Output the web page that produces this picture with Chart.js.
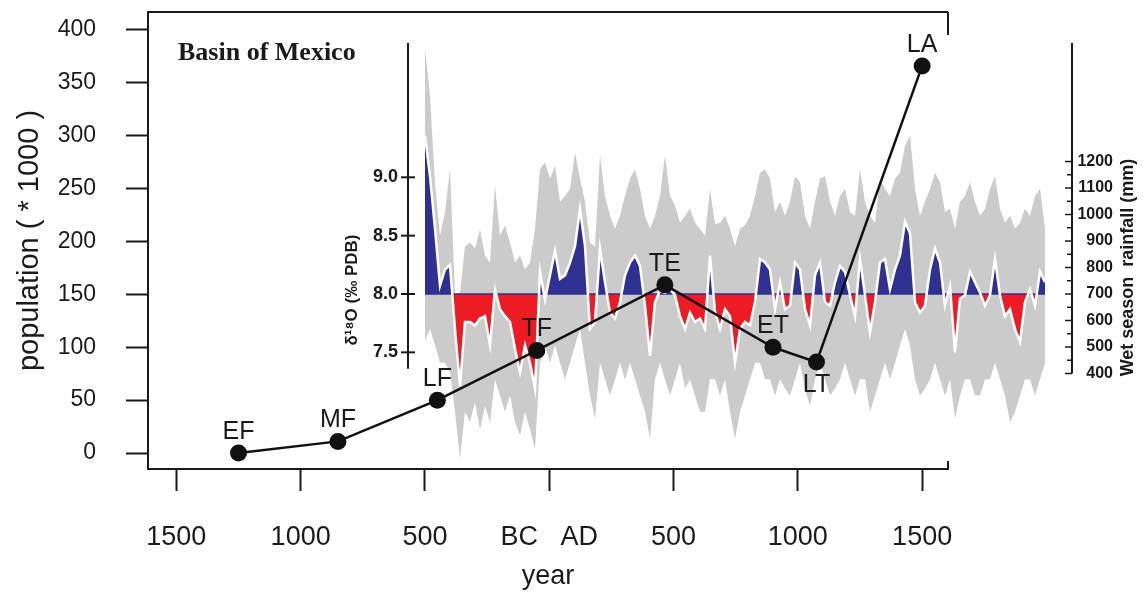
<!DOCTYPE html>
<html>
<head>
<meta charset="utf-8">
<title>Basin of Mexico: population and rainfall</title>
<script src="https://cdn.jsdelivr.net/npm/chart.js@4.4.1/dist/chart.umd.min.js"></script>
<style>
  body { margin: 0; background: #fff; }
  #wrap { position: relative; width: 1143px; height: 596px; }
  #wrap canvas { position: absolute; left: 0; top: 0; }
  #insetChart { z-index: 1; }
  #popChart { z-index: 2; }
  #basinTitle {
    position: absolute; left: 178px; top: 39px; z-index: 3;
    font: bold 26px "Liberation Serif", "Times New Roman", serif;
    line-height: 26px; color: #1a1a1a; white-space: nowrap;
  }
</style>
</head>
<body>
<div id="wrap">
  <canvas id="insetChart" width="1143" height="596"></canvas>
  <canvas id="popChart" width="1143" height="596"></canvas>
  <div id="basinTitle">Basin of Mexico</div>
</div>
<script>
// population phases, years below zero are BC
const PHASES = ["EF", "MF", "LF", "TF", "TE", "ET", "LT", "LA"];
const PHASE_YEARS = [-1250, -850, -450, -50, 465, 900, 1075, 1500];
const POPULATION = [0, 11, 50, 97, 159, 100, 86, 366];
const LABEL_BELOW = ["LT"];

const YEAR_TICKS = [-1500, -1000, -500, 0, 500, 1000, 1500];
const YEAR_LABELS = ["1500", "1000", "500", "BC   AD", "500", "1000", "1500"];
const POP_TICKS = [0, 50, 100, 150, 200, 250, 300, 350, 400];

// speleothem d18O record (inset), one value per sample step
const D18O_SMOOTH = [
  9.36, 9.01, 8.56, 8.07, 8.21, 8.25, 7.70, 7.21, 7.76, 7.76,
  7.73, 7.79, 7.81, 7.56, 8.04, 7.87, 7.81, 7.76, 7.53, 7.33,
  7.56, 7.41, 7.19, 8.19, 7.95, 8.16, 8.37, 8.13, 8.16, 8.27,
  8.41, 8.73, 8.41, 7.70, 7.76, 8.39, 8.10, 7.84, 7.79, 7.93,
  8.16, 8.27, 8.33, 8.24, 7.90, 7.47, 7.93, 8.03, 8.01, 8.04,
  7.99, 7.81, 7.70, 7.84, 7.76, 7.79, 7.70, 8.33, 7.85, 7.70,
  7.87, 7.81, 7.41, 7.70, 7.76, 7.73, 7.93, 8.30, 8.27, 8.21,
  7.87, 8.10, 7.87, 7.90, 8.27, 8.21, 7.87, 7.73, 8.16, 8.27,
  7.93, 7.90, 8.10, 8.24, 8.19, 7.99, 7.81, 8.30, 7.99, 7.67,
  7.93, 8.27, 8.30, 8.04, 8.21, 8.33, 8.62, 8.52, 7.93, 7.84,
  7.90, 8.21, 8.39, 8.27, 7.90, 8.07, 7.50, 7.96, 7.99, 8.19,
  8.10, 8.01, 7.90, 7.99, 8.30, 7.99, 7.81, 7.87, 7.70, 7.59,
  7.93, 8.04, 7.90, 8.19, 8.10
];
const D18O_HIGH = [
  10.10, 9.70, 8.95, 8.50, 8.70, 9.07, 8.00, 8.01, 8.41, 8.44,
  8.39, 8.55, 8.33, 8.27, 8.93, 8.50, 8.59, 8.44, 8.27, 8.33,
  8.21, 8.27, 8.56, 9.07, 9.13, 8.99, 9.10, 8.79, 8.84, 8.90,
  9.21, 8.99, 8.79, 8.44, 8.41, 9.19, 8.84, 8.67, 8.56, 8.67,
  8.84, 8.99, 9.07, 8.90, 8.67, 8.56, 8.67, 8.84, 9.19, 8.84,
  8.76, 8.61, 8.67, 8.73, 8.61, 8.56, 8.50, 8.90, 8.60, 8.61,
  8.67, 8.56, 8.41, 8.56, 8.59, 8.67, 8.84, 9.04, 9.07, 8.99,
  8.70, 8.79, 8.67, 8.79, 9.01, 8.96, 8.67, 8.56, 8.79, 8.99,
  9.01, 8.79, 8.67, 8.84, 8.90, 8.70, 8.67, 9.07, 8.79, 8.67,
  8.61, 8.99, 8.90, 8.84, 8.99, 9.04, 9.27, 9.36, 8.90, 8.67,
  8.79, 8.90, 9.04, 8.96, 8.70, 8.73, 8.56, 8.79, 8.84, 8.96,
  8.79, 8.67, 8.73, 8.90, 9.01, 8.73, 8.61, 8.67, 8.56, 8.61,
  8.73, 8.67, 8.84, 8.90, 8.56
];
const D18O_LOW = [
  7.60, 7.70, 7.56, 7.41, 7.41, 7.33, 6.99, 6.59, 6.99, 6.90,
  7.07, 6.84, 7.04, 6.90, 7.27, 7.13, 6.99, 7.13, 6.90, 6.79,
  6.99, 6.84, 6.67, 7.41, 7.56, 7.41, 7.56, 7.41, 7.27, 7.41,
  7.56, 7.70, 7.41, 7.13, 6.93, 7.41, 7.27, 7.13, 7.27, 7.41,
  7.27, 7.41, 7.27, 7.13, 6.99, 6.76, 7.27, 7.41, 7.27, 7.13,
  7.27, 7.41, 7.19, 7.27, 7.13, 6.99, 6.99, 7.27, 7.27, 7.13,
  7.27, 6.99, 6.76, 6.99, 7.13, 7.27, 7.41, 7.41, 7.27, 7.27,
  7.13, 7.27, 7.19, 7.13, 7.27, 7.41, 7.19, 7.04, 7.27, 7.41,
  7.27, 7.13, 7.19, 7.27, 7.41, 7.27, 7.13, 7.27, 7.27, 6.99,
  7.13, 7.27, 7.41, 7.27, 7.41, 7.56, 7.70, 7.56, 7.27, 7.13,
  7.19, 7.27, 7.41, 7.27, 7.13, 7.27, 6.93, 7.13, 7.27, 7.27,
  7.13, 7.13, 7.27, 7.27, 7.41, 7.27, 7.13, 6.90, 6.99, 7.13,
  7.27, 7.27, 7.13, 7.27, 7.41
];
const D18O_TICKS = [7.5, 8.0, 8.5, 9.0];
const RAIN_TICKS = [400, 500, 600, 700, 800, 900, 1000, 1100, 1200];
const RAIN_MINOR = [450, 550, 650, 750, 850, 950, 1050, 1150];

// inset calibration: 8.0 permil sits at 700 mm
const D18O_BASE = 8.0;
const D18O_MIN = 6.526;
const D18O_MAX = 10.151;
const D18O_AXIS_END = 7.36;
const RAIN_AT_BASE = 700;
const RAIN_PER_PERMIL = 440.4;

const INK = "#1a1a1a";
const BLUE = "#2e3192";
const RED = "#ed1c24";
const GREY = "#cbcbcb";
const SANS = '"Liberation Sans", Arial, sans-serif';

Chart.defaults.font.family = SANS;
Chart.defaults.color = INK;

const asPoints = (arr) => arr.map((v, i) => ({ x: i, y: v }));

function stroke(ctx, x1, y1, x2, y2) {
  ctx.beginPath();
  ctx.moveTo(x1, y1);
  ctx.lineTo(x2, y2);
  ctx.stroke();
}

const insetAxes = {
  id: "insetAxes",
  beforeDatasetDraw(chart, args) {
    if (args.index !== 0) return;
    const { ctx } = chart;
    const x = chart.scales.x;
    const y = chart.scales.y;
    const py = y.getPixelForValue(D18O_BASE);
    ctx.save();
    ctx.strokeStyle = BLUE;
    ctx.lineWidth = 1.5;
    stroke(ctx, x.getPixelForValue(0), py, x.getPixelForValue(D18O_SMOOTH.length - 1), py);
    ctx.restore();
  },
  afterDraw(chart) {
    const { ctx, chartArea } = chart;
    const y = chart.scales.y;
    const rain = chart.scales.rain;
    const left = chartArea.left;
    const right = chartArea.right;
    ctx.save();
    ctx.strokeStyle = INK;
    ctx.lineWidth = 2;
    stroke(ctx, left, chartArea.top, left, y.getPixelForValue(D18O_AXIS_END));
    D18O_TICKS.forEach((v) => {
      const py = y.getPixelForValue(v);
      stroke(ctx, left - 7, py, left + 7, py);
    });
    stroke(ctx, right, chartArea.top, right, rain.getPixelForValue(RAIN_TICKS[0]));
    ctx.lineWidth = 1.5;
    RAIN_TICKS.forEach((v) => {
      const py = rain.getPixelForValue(v);
      stroke(ctx, right - 7, py, right, py);
    });
    RAIN_MINOR.forEach((v) => {
      const py = rain.getPixelForValue(v);
      stroke(ctx, right - 5, py, right, py);
    });

    ctx.fillStyle = INK;
    ctx.textAlign = "center";
    ctx.textBaseline = "middle";
    ctx.save();
    ctx.translate(left - 56, y.getPixelForValue(D18O_BASE) - 4);
    ctx.rotate(-Math.PI / 2);
    ctx.font = "bold 17px " + SANS;
    ctx.fillText("\u03b4\u00b9\u2078O (\u2030 PDB)", 0, 0);
    ctx.restore();
    const midRain = (rain.getPixelForValue(RAIN_TICKS[0]) +
      rain.getPixelForValue(RAIN_TICKS[RAIN_TICKS.length - 1])) / 2;
    ctx.translate(right + 56, midRain);
    ctx.rotate(-Math.PI / 2);
    ctx.font = "bold 18px " + SANS;
    ctx.fillText("Wet season  rainfall (mm)", 0, 0);
    ctx.restore();
  },
};

new Chart(document.getElementById("insetChart"), {
  type: "line",
  data: {
    datasets: [
      {
        label: "smoothed",
        data: asPoints(D18O_SMOOTH),
        borderColor: "#ffffff",
        borderWidth: 2.5,
        pointRadius: 0,
        fill: { value: D18O_BASE, above: BLUE, below: RED },
        clip: false,
      },
      {
        label: "annual high",
        data: asPoints(D18O_HIGH),
        borderColor: "rgba(0,0,0,0)",
        borderWidth: 0,
        backgroundColor: GREY,
        pointRadius: 0,
        fill: "+1",
        clip: false,
      },
      {
        label: "annual low",
        data: asPoints(D18O_LOW),
        borderColor: "rgba(0,0,0,0)",
        borderWidth: 0,
        pointRadius: 0,
        fill: false,
        clip: false,
      },
    ],
  },
  options: {
    responsive: false,
    animation: false,
    layout: { padding: { left: 338, right: 30, top: 43, bottom: 130 } },
    plugins: { legend: { display: false }, tooltip: { enabled: false } },
    scales: {
      x: { type: "linear", display: false, min: -3.4, max: 129.4 },
      y: {
        type: "linear",
        position: "left",
        min: D18O_MIN,
        max: D18O_MAX,
        afterBuildTicks: (s) => { s.ticks = D18O_TICKS.map((v) => ({ value: v })); },
        afterFit: (s) => { s.width = 70; s.paddingTop = 0; s.paddingBottom = 0; },
        border: { display: false },
        grid: { display: false, drawTicks: false },
        ticks: {
          padding: 10,
          font: { size: 18, weight: "bold" },
          callback: (v) => Number(v).toFixed(1),
        },
      },
      rain: {
        type: "linear",
        position: "right",
        min: RAIN_AT_BASE + (D18O_MIN - D18O_BASE) * RAIN_PER_PERMIL,
        max: RAIN_AT_BASE + (D18O_MAX - D18O_BASE) * RAIN_PER_PERMIL,
        afterBuildTicks: (s) => { s.ticks = RAIN_TICKS.map((v) => ({ value: v })); },
        afterFit: (s) => { s.width = 41; s.paddingTop = 0; s.paddingBottom = 0; },
        border: { display: false },
        grid: { display: false, drawTicks: false },
        ticks: {
          crossAlign: "far",
          padding: 0,
          font: { size: 16, weight: "bold" },
          callback: (v) => String(v),
        },
      },
    },
  },
  plugins: [insetAxes],
});

const frame = {
  id: "frame",
  afterDraw(chart) {
    const { ctx, chartArea } = chart;
    ctx.save();
    ctx.strokeStyle = INK;
    ctx.lineWidth = 2;
    stroke(ctx, chartArea.left, chartArea.top, chartArea.right, chartArea.top);
    stroke(ctx, chartArea.right, chartArea.top, chartArea.right, chartArea.top + 23);
    stroke(ctx, chartArea.right, chartArea.bottom, chartArea.right, chartArea.bottom - 8);
    ctx.restore();
  },
};

const phaseLabels = {
  id: "phaseLabels",
  afterDatasetsDraw(chart) {
    const { ctx } = chart;
    const meta = chart.getDatasetMeta(0);
    ctx.save();
    ctx.fillStyle = INK;
    ctx.font = "25px " + SANS;
    ctx.textAlign = "center";
    ctx.textBaseline = "middle";
    meta.data.forEach((pt, i) => {
      const below = LABEL_BELOW.includes(PHASES[i]);
      ctx.fillText(PHASES[i], pt.x, below ? pt.y + 23 : pt.y - 21);
    });
    ctx.restore();
  },
};

new Chart(document.getElementById("popChart"), {
  type: "line",
  data: {
    datasets: [
      {
        label: "population",
        data: PHASE_YEARS.map((yr, i) => ({ x: yr, y: POPULATION[i] })),
        borderColor: "#111111",
        borderWidth: 2.5,
        pointRadius: 8.5,
        pointBackgroundColor: "#111111",
        pointBorderWidth: 0,
        clip: false,
      },
    ],
  },
  options: {
    responsive: false,
    animation: false,
    layout: { autoPadding: false, padding: { left: 0, right: 195, top: 12, bottom: 0 } },
    plugins: { legend: { display: false }, tooltip: { enabled: false } },
    scales: {
      x: {
        type: "linear",
        min: -1614,
        max: 1604,
        afterBuildTicks: (s) => { s.ticks = YEAR_TICKS.map((v) => ({ value: v })); },
        afterFit: (s) => { s.height = 127; s.paddingLeft = 0; s.paddingRight = 0; },
        border: { color: INK, width: 2 },
        grid: { drawOnChartArea: false, tickLength: 22, tickColor: INK, tickWidth: 2 },
        ticks: {
          padding: 30,
          maxRotation: 0,
          autoSkip: false,
          font: { size: 27 },
          callback: (v) => YEAR_LABELS[YEAR_TICKS.indexOf(v)],
        },
        title: { display: true, text: "year", font: { size: 27 }, padding: { top: 0, bottom: 3 } },
      },
      y: {
        type: "linear",
        min: -15.1,
        max: 417,
        afterBuildTicks: (s) => { s.ticks = POP_TICKS.map((v) => ({ value: v })); },
        afterFit: (s) => { s.width = 148; s.paddingTop = 0; s.paddingBottom = 0; },
        border: { color: INK, width: 2 },
        grid: { drawOnChartArea: false, tickLength: 22, tickColor: INK, tickWidth: 2 },
        ticks: { padding: 30, font: { size: 23 } },
        title: {
          display: true,
          text: "population ( * 1000 )",
          font: { size: 29 },
          padding: { top: 13, bottom: 0 },
        },
      },
    },
  },
  plugins: [frame, phaseLabels],
});
</script>
</body>
</html>
